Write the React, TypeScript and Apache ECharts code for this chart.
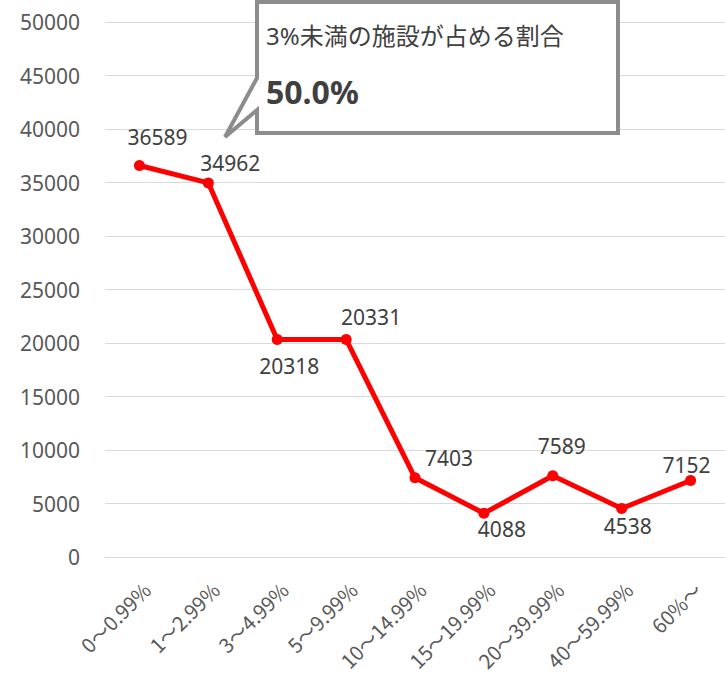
import React, { useEffect, useRef } from "react";
import * as echarts from "echarts";

const categories = ["0〜0.99%", "1〜2.99%", "3〜4.99%", "5〜9.99%", "10〜14.99%", "15〜19.99%", "20〜39.99%", "40〜59.99%", "60%〜"];
const values = [36589, 34962, 20318, 20331, 7403, 4088, 7589, 4538, 7152];
const labelOffsets: number[][] = [[18, -28], [22, -20], [12, 26], [25, -22], [34, -20], [18, 16], [9, -30], [6, 18], [-4, -15]];
const calloutTitle = "3%未満の施設が占める割合";
const calloutValue = "50.0%";

const FONT = "'Noto Sans', 'Noto Sans CJK JP', sans-serif";
const CJK = "'Noto Sans CJK JP', 'Noto Sans', sans-serif";

export default function App() {
  const ref = useRef<HTMLDivElement>(null);
  useEffect(() => {
    if (!ref.current) return;
    const chart = echarts.init(ref.current, undefined, { renderer: "svg" });
    chart.setOption({
      animation: false,
      backgroundColor: "#ffffff",
      grid: { left: 105, right: -6, top: 22, bottom: 136 },
      xAxis: {
        type: "category",
        data: categories,
        boundaryGap: true,
        axisLine: { show: true, lineStyle: { color: "#d9d9d9", width: 1 } },
        axisTick: { show: false },
        axisLabel: {
          rotate: 45,
          interval: 0,
          margin: 22,
          verticalAlign: "top",
          color: "#595959",
          fontSize: 20,
          fontFamily: CJK,
        },
      },
      yAxis: {
        type: "value",
        min: 0,
        max: 50000,
        interval: 5000,
        axisLine: { show: false },
        axisTick: { show: false },
        splitLine: { lineStyle: { color: "#d9d9d9", width: 1 } },
        axisLabel: {
          margin: 25,
          color: "#595959",
          fontSize: 21,
          fontFamily: FONT,
          formatter: (v: number) => String(v),
        },
      },
      series: [
        {
          type: "line",
          data: values.map((v, i) => ({
            value: v,
            label: { offset: labelOffsets[i] },
          })),
          lineStyle: { color: "#ff0000", width: 5 },
          itemStyle: { color: "#ff0000" },
          symbol: "circle",
          symbolSize: 11,
          label: {
            show: true,
            position: "inside",
            color: "#404040",
            fontSize: 21,
            fontFamily: FONT,
          },
          z: 3,
        },
      ],
      graphic: [
        {
          type: "polygon",
          z: 100,
          shape: {
            points: [
              [257, 2],
              [618, 2],
              [618, 133],
              [257, 133],
              [257, 110],
              [225, 137],
              [257, 78],
            ],
          },
          style: { fill: "#ffffff", stroke: "#8c8c8c", lineWidth: 4, lineJoin: "miter" },
        },
        {
          type: "text",
          z: 101,
          x: 266,
          y: 35,
          style: {
            text: calloutTitle,
            fill: "#404040",
            fontSize: 24,
            fontFamily: FONT,
            verticalAlign: "middle",
            align: "left",
          },
        },
        {
          type: "text",
          z: 101,
          x: 266,
          y: 91,
          style: {
            text: calloutValue,
            fill: "#404040",
            fontSize: 32,
            fontWeight: "bold",
            fontFamily: FONT,
            verticalAlign: "middle",
            align: "left",
          },
        },
      ],
    });
    return () => chart.dispose();
  }, []);
  return (
    <div
      ref={ref}
      style={{ position: "absolute", left: 0, top: 0, width: 725, height: 693 }}
    />
  );
}
